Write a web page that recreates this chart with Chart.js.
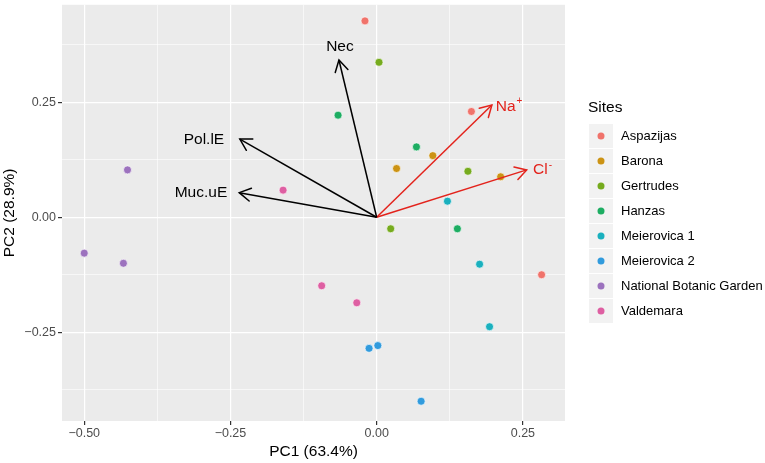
<!DOCTYPE html>
<html>
<head>
<meta charset="utf-8">
<script src="https://cdn.jsdelivr.net/npm/chart.js@4"></script>
<style>
  body { margin: 0; background: #fff; }
  #wrap { width: 765px; height: 463px; }
</style>
</head>
<body>
<div id="wrap"><canvas id="pca" width="765" height="463"></canvas></div>
<script>
// sites and their PCA scores (3 samples each)
const sites = ["Aspazijas", "Barona", "Gertrudes", "Hanzas", "Meierovica 1", "Meierovica 2", "National Botanic Garden", "Valdemara"];
const siteColors = ["#F0736B", "#CC9314", "#76AB1E", "#1DAD62", "#1AB0BE", "#319BDD", "#9C72BE", "#DE5FA2"];
const pc1 = [
  [-0.020, 0.162, 0.282],
  [0.034, 0.096, 0.212],
  [0.004, 0.156, 0.024],
  [-0.066, 0.068, 0.138],
  [0.121, 0.176, 0.193],
  [0.002, 0.076, -0.013],
  [-0.426, -0.500, -0.433],
  [-0.160, -0.094, -0.034]
];
const pc2 = [
  [0.427, 0.230, -0.125],
  [0.106, 0.134, 0.088],
  [0.337, 0.100, -0.025],
  [0.222, 0.153, -0.025],
  [0.035, -0.102, -0.238],
  [-0.279, -0.400, -0.285],
  [0.103, -0.078, -0.100],
  [0.059, -0.149, -0.186]
];

// loading arrows
const loadingNames = ["Nec", "Pol.lE", "Muc.uE", "Na", "Cl"];
const loadingSup = ["", "", "", "+", "-"];
const loadingX = [-0.0645, -0.234, -0.235, 0.197, 0.2565];
const loadingY = [0.342, 0.170, 0.0535, 0.244, 0.103];
const loadingColors = ["#000000", "#000000", "#000000", "#E3231C", "#E3231C"];
const labelX = [-0.0628, -0.2953, -0.3004, 0.2035, 0.2673];
const labelY = [0.370, 0.168, 0.0535, 0.2404, 0.1028];

const xTicks = [-0.5, -0.375, -0.25, -0.125, 0, 0.125, 0.25];
const yTicks = [-0.375, -0.25, -0.125, 0, 0.125, 0.25, 0.375];

const FONT = "'Liberation Sans', Arial, Helvetica, sans-serif";

function isMajor(v) {
  return Math.abs(v / 0.25 - Math.round(v / 0.25)) < 1e-6;
}
function fmt(v) {
  if (!isMajor(v)) return "";
  return v.toFixed(2).replace("-", "\u2212");
}

const datasets = [];
loadingNames.forEach((n, i) => {
  datasets.push({
    type: "line",
    label: n,
    data: [{ x: 0, y: 0 }, { x: loadingX[i], y: loadingY[i] }],
    borderColor: loadingColors[i],
    borderWidth: 1.5,
    pointRadius: 0,
    fill: false,
    order: 0
  });
});
sites.forEach((s, i) => {
  datasets.push({
    label: s,
    data: pc1[i].map((x, j) => ({ x: x, y: pc2[i][j] })),
    backgroundColor: siteColors[i],
    borderColor: "rgba(255,255,255,0.8)",
    borderWidth: 0.8,
    pointRadius: 4,
    order: 1
  });
});

const panelBg = {
  id: "panelBg",
  beforeDraw(chart) {
    const a = chart.chartArea;
    const ctx = chart.ctx;
    ctx.save();
    ctx.fillStyle = "#EBEBEB";
    ctx.fillRect(a.left, a.top, a.right - a.left, a.bottom - a.top);
    ctx.restore();
  }
};

const arrows = {
  id: "arrows",
  afterDatasetsDraw(chart) {
    const ctx = chart.ctx;
    const xs = chart.scales.x, ys = chart.scales.y;
    const x0 = xs.getPixelForValue(0), y0 = ys.getPixelForValue(0);
    ctx.save();
    loadingNames.forEach((n, i) => {
      const tx = xs.getPixelForValue(loadingX[i]);
      const ty = ys.getPixelForValue(loadingY[i]);
      const ang = Math.atan2(ty - y0, tx - x0);
      const len = 13, spread = Math.PI / 6;
      ctx.strokeStyle = loadingColors[i];
      ctx.lineWidth = 1.5;
      ctx.lineCap = "round";
      ctx.beginPath();
      ctx.moveTo(tx - len * Math.cos(ang - spread), ty - len * Math.sin(ang - spread));
      ctx.lineTo(tx, ty);
      ctx.lineTo(tx - len * Math.cos(ang + spread), ty - len * Math.sin(ang + spread));
      ctx.stroke();

      const lx = xs.getPixelForValue(labelX[i]);
      const ly = ys.getPixelForValue(labelY[i]);
      ctx.fillStyle = loadingColors[i];
      ctx.font = "15.5px " + FONT;
      ctx.textBaseline = "middle";
      if (loadingSup[i]) {
        ctx.textAlign = "left";
        ctx.fillText(n, lx, ly);
        const w = ctx.measureText(n).width;
        ctx.font = "10px " + FONT;
        ctx.fillText(loadingSup[i], lx + w + 1, ly - 5);
      } else {
        ctx.textAlign = "center";
        ctx.fillText(n, lx, ly);
      }
    });
    ctx.restore();
  }
};

const siteLegend = {
  id: "siteLegend",
  afterDraw(chart) {
    const ctx = chart.ctx;
    ctx.save();
    ctx.fillStyle = "#000";
    ctx.font = "15.5px " + FONT;
    ctx.textAlign = "left";
    ctx.textBaseline = "middle";
    ctx.fillText("Sites", 588, 108);
    sites.forEach((s, i) => {
      const cy = 136 + i * 25;
      ctx.fillStyle = "#F2F2F2";
      ctx.fillRect(589, cy - 12, 24, 24);
      ctx.beginPath();
      ctx.arc(601, cy, 3.5, 0, Math.PI * 2);
      ctx.fillStyle = siteColors[i];
      ctx.fill();
      ctx.fillStyle = "#000";
      ctx.font = "13px " + FONT;
      ctx.fillText(s, 621, cy);
    });
    ctx.restore();
  }
};

function gridOpts() {
  return {
    color: "#FFFFFF",
    lineWidth: c => (c.tick && isMajor(c.tick.value) ? 1.2 : 0.6),
    tickColor: c => (c.tick && isMajor(c.tick.value) ? "#333333" : "rgba(0,0,0,0)"),
    tickLength: 4,
    drawOnChartArea: true
  };
}

function noPad(s) {
  s.paddingLeft = 0; s.paddingRight = 0; s.paddingTop = 0; s.paddingBottom = 0;
}

new Chart(document.getElementById("pca"), {
  type: "scatter",
  data: { datasets: datasets },
  options: {
    responsive: false,
    animation: false,
    devicePixelRatio: 1,
    layout: { padding: { top: 2, right: 200, left: 0, bottom: 0 } },
    plugins: { legend: { display: false }, tooltip: { enabled: false } },
    scales: {
      x: {
        type: "linear",
        min: -0.538,
        max: 0.322,
        afterBuildTicks: s => { s.ticks = xTicks.map(v => ({ value: v })); },
        afterFit: s => { s.height = 42; noPad(s); },
        grid: gridOpts(),
        border: { display: false },
        ticks: {
          callback: v => fmt(v),
          color: "#4D4D4D",
          font: { family: FONT, size: 12.5 },
          padding: 1,
          maxRotation: 0,
          autoSkip: false
        },
        title: {
          display: true,
          text: "PC1 (63.4%)",
          color: "#000",
          font: { family: FONT, size: 15.5 },
          padding: { top: 0, bottom: 2 }
        }
      },
      y: {
        type: "linear",
        min: -0.443,
        max: 0.462,
        afterBuildTicks: s => { s.ticks = yTicks.map(v => ({ value: v })); },
        afterFit: s => { s.width = 62; noPad(s); },
        grid: gridOpts(),
        border: { display: false },
        ticks: {
          callback: v => fmt(v),
          color: "#4D4D4D",
          font: { family: FONT, size: 12.5 },
          padding: 2,
          autoSkip: false
        },
        title: {
          display: true,
          text: "PC2 (28.9%)",
          color: "#000",
          font: { family: FONT, size: 15.5 },
          padding: { top: 0, bottom: 0 }
        }
      }
    }
  },
  plugins: [panelBg, arrows, siteLegend]
});
</script>
</body>
</html>
